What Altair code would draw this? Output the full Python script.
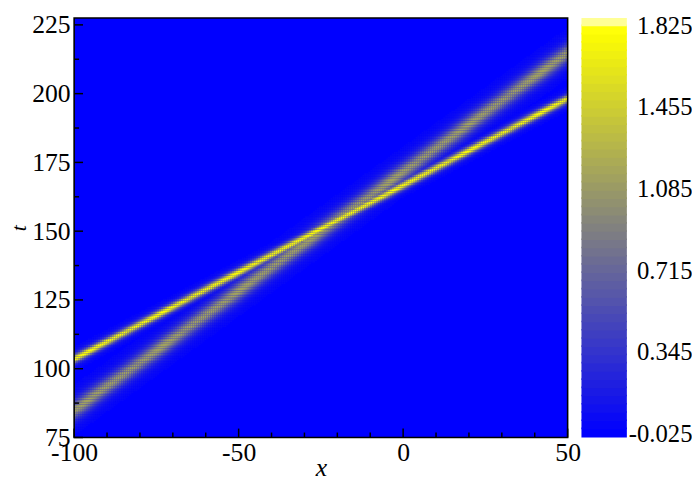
import numpy as np
import pandas as pd
import altair as alt

alt.data_transformers.disable_max_rows()

# ---- values ----
soliton_names = ["narrow (yellow)", "wide (grey)"]
t_at_left = [103.5, 84.9]      # t where each ridge meets x = -100
t_at_right = [198.2, 214.8]    # t where each ridge meets x = 50
amplitude = [1.80, 1.15]
inv_width = [0.44, 0.27]       # sech^2 steepness along x

x_ticks_major = [-100, -50, 0, 50]
x_ticks_minor = [-90, -80, -70, -60, -40, -30, -20, -10, 10, 20, 30, 40]
t_ticks_major = [75, 100, 125, 150, 175, 200, 225]
t_ticks_minor = [87.5, 112.5, 137.5, 162.5, 187.5, 212.5]
cbar_ticks = [-0.025, 0.345, 0.715, 1.085, 1.455, 1.825]

X_DOM = [-100, 50]
T_DOM = [75, 227.5]
CB_DOM = [-0.0426, 1.858]
N_BANDS = 51
STEP = 0.6

# ---- field on a grid ----
xs = np.arange(X_DOM[0], X_DOM[1], STEP)
ts = np.arange(T_DOM[0], T_DOM[1], STEP)
XX, TT = np.meshgrid(xs + STEP / 2, ts + STEP / 2)
U = np.zeros_like(XX)
for tl, tr, a, k in zip(t_at_left, t_at_right, amplitude, inv_width):
    xc = X_DOM[0] + (TT - tl) * (X_DOM[1] - X_DOM[0]) / (tr - tl)
    U = np.maximum(U, a / np.cosh(k * (XX - xc)) ** 2)
X0, T0 = np.meshgrid(xs, ts)
mask = U > 0.015
field = pd.DataFrame({
    "x": np.round(X0[mask], 2),
    "t": np.round(T0[mask], 2),
    "u": np.round(U[mask], 3),
})

W, H = 500, 425
FONT = "Liberation Serif"

color_scale = alt.Scale(
    domain=[-0.025, 0.9, 1.80, 1.838],
    range=["#0000ff", "#808080", "#ffff00", "#ffff96"],
    interpolate="rgb",
    clamp=True,
)
xs_scale = alt.Scale(domain=X_DOM, nice=False, zero=False)
ts_scale = alt.Scale(domain=T_DOM, nice=False, zero=False)
x_axis = alt.Axis(values=x_ticks_major, title="x", labelFlush=False, titlePadding=-10,
                  labelPadding=2,
                  labelExpr="datum.value < 0 ? '-' + abs(datum.value) : '' + datum.value")
y_axis = alt.Axis(values=t_ticks_major, title="t", labelFlush=False, titlePadding=1,
                  titleFontSize=22)

bg = alt.Chart(pd.DataFrame({"a": [0]})).mark_rect(fill="#0000ff").encode(
    x=alt.X(datum=X_DOM[0], scale=xs_scale, axis=x_axis),
    x2=alt.datum(X_DOM[1]),
    y=alt.Y(datum=T_DOM[0], scale=ts_scale, axis=y_axis),
    y2=alt.datum(T_DOM[1]),
)

heat = alt.Chart(field).transform_calculate(
    x2=f"datum.x + {STEP * 1.04}", t2=f"datum.t + {STEP * 1.04}"
).mark_rect(clip=True, strokeWidth=0).encode(
    x=alt.X("x:Q", scale=xs_scale, axis=x_axis),
    x2="x2:Q",
    y=alt.Y("t:Q", scale=ts_scale, axis=y_axis),
    y2="t2:Q",
    color=alt.Color("u:Q", scale=color_scale, legend=None),
)

def xticks(vals, length):
    return alt.Chart(pd.DataFrame({"v": vals})).mark_rule(color="black", strokeWidth=1.5).encode(
        x=alt.X("v:Q", scale=xs_scale, axis=x_axis),
        y=alt.value(H), y2=alt.value(H - length))

def yticks(vals, length):
    return alt.Chart(pd.DataFrame({"v": vals})).mark_rule(color="black", strokeWidth=1.5).encode(
        y=alt.Y("v:Q", scale=ts_scale, axis=y_axis),
        x=alt.value(0), x2=alt.value(length))

frame = alt.Chart(pd.DataFrame({"a": [0]})).mark_rect(
    fill=None, stroke="black", strokeWidth=1.6).encode(
    x=alt.X(datum=X_DOM[0], scale=xs_scale, axis=x_axis),
    x2=alt.datum(X_DOM[1]),
    y=alt.Y(datum=T_DOM[0], scale=ts_scale, axis=y_axis),
    y2=alt.datum(T_DOM[1]),
)

main = alt.layer(
    bg, heat,
    xticks(x_ticks_major, 9), xticks(x_ticks_minor, 5),
    yticks(t_ticks_major, 9), yticks(t_ticks_minor, 5),
    frame,
).properties(width=W, height=H)

bw = (CB_DOM[1] - CB_DOM[0]) / N_BANDS
lo = [CB_DOM[0] + j * bw for j in range(N_BANDS)]
bands = pd.DataFrame({
    "lo": lo,
    "hi": [v + bw * 1.2 for v in lo],
    "mid": [v + bw / 2 for v in lo],
})
bands.loc[N_BANDS - 1, "hi"] = CB_DOM[1]

cbar = alt.Chart(bands).mark_rect(strokeWidth=0).encode(
    y=alt.Y("lo:Q", scale=alt.Scale(domain=CB_DOM, nice=False, zero=False),
            axis=alt.Axis(orient="right", values=cbar_ticks, title=None,
                          labelAlign="right", labelPadding=66, labelFlush=False,
                          labelFontSize=25,
                          labelExpr="datum.value < 0 ? '-' + format(-datum.value, '.3f') : format(datum.value, '.3f')")),
    y2="hi:Q",
    x=alt.value(0), x2=alt.value(46),
    color=alt.Color("mid:Q", scale=color_scale, legend=None),
).properties(width=46, height=H)

chart = alt.hconcat(main, cbar, spacing=1).resolve_scale(
    color="independent"
).properties(
    padding={"top": 0, "left": 0, "right": 0, "bottom": 0},
    background="white",
).configure_view(stroke=None).configure_axis(
    labelFont=FONT, labelFontSize=26, labelColor="black",
    titleFont=FONT, titleFontSize=26, titleColor="black",
    titleFontStyle="italic", titleFontWeight="normal",
    labelPadding=4, ticks=False, tickSize=0, domain=False, grid=False,
)

chart.save("out.html", embed_options={"renderer": "svg", "actions": False})
